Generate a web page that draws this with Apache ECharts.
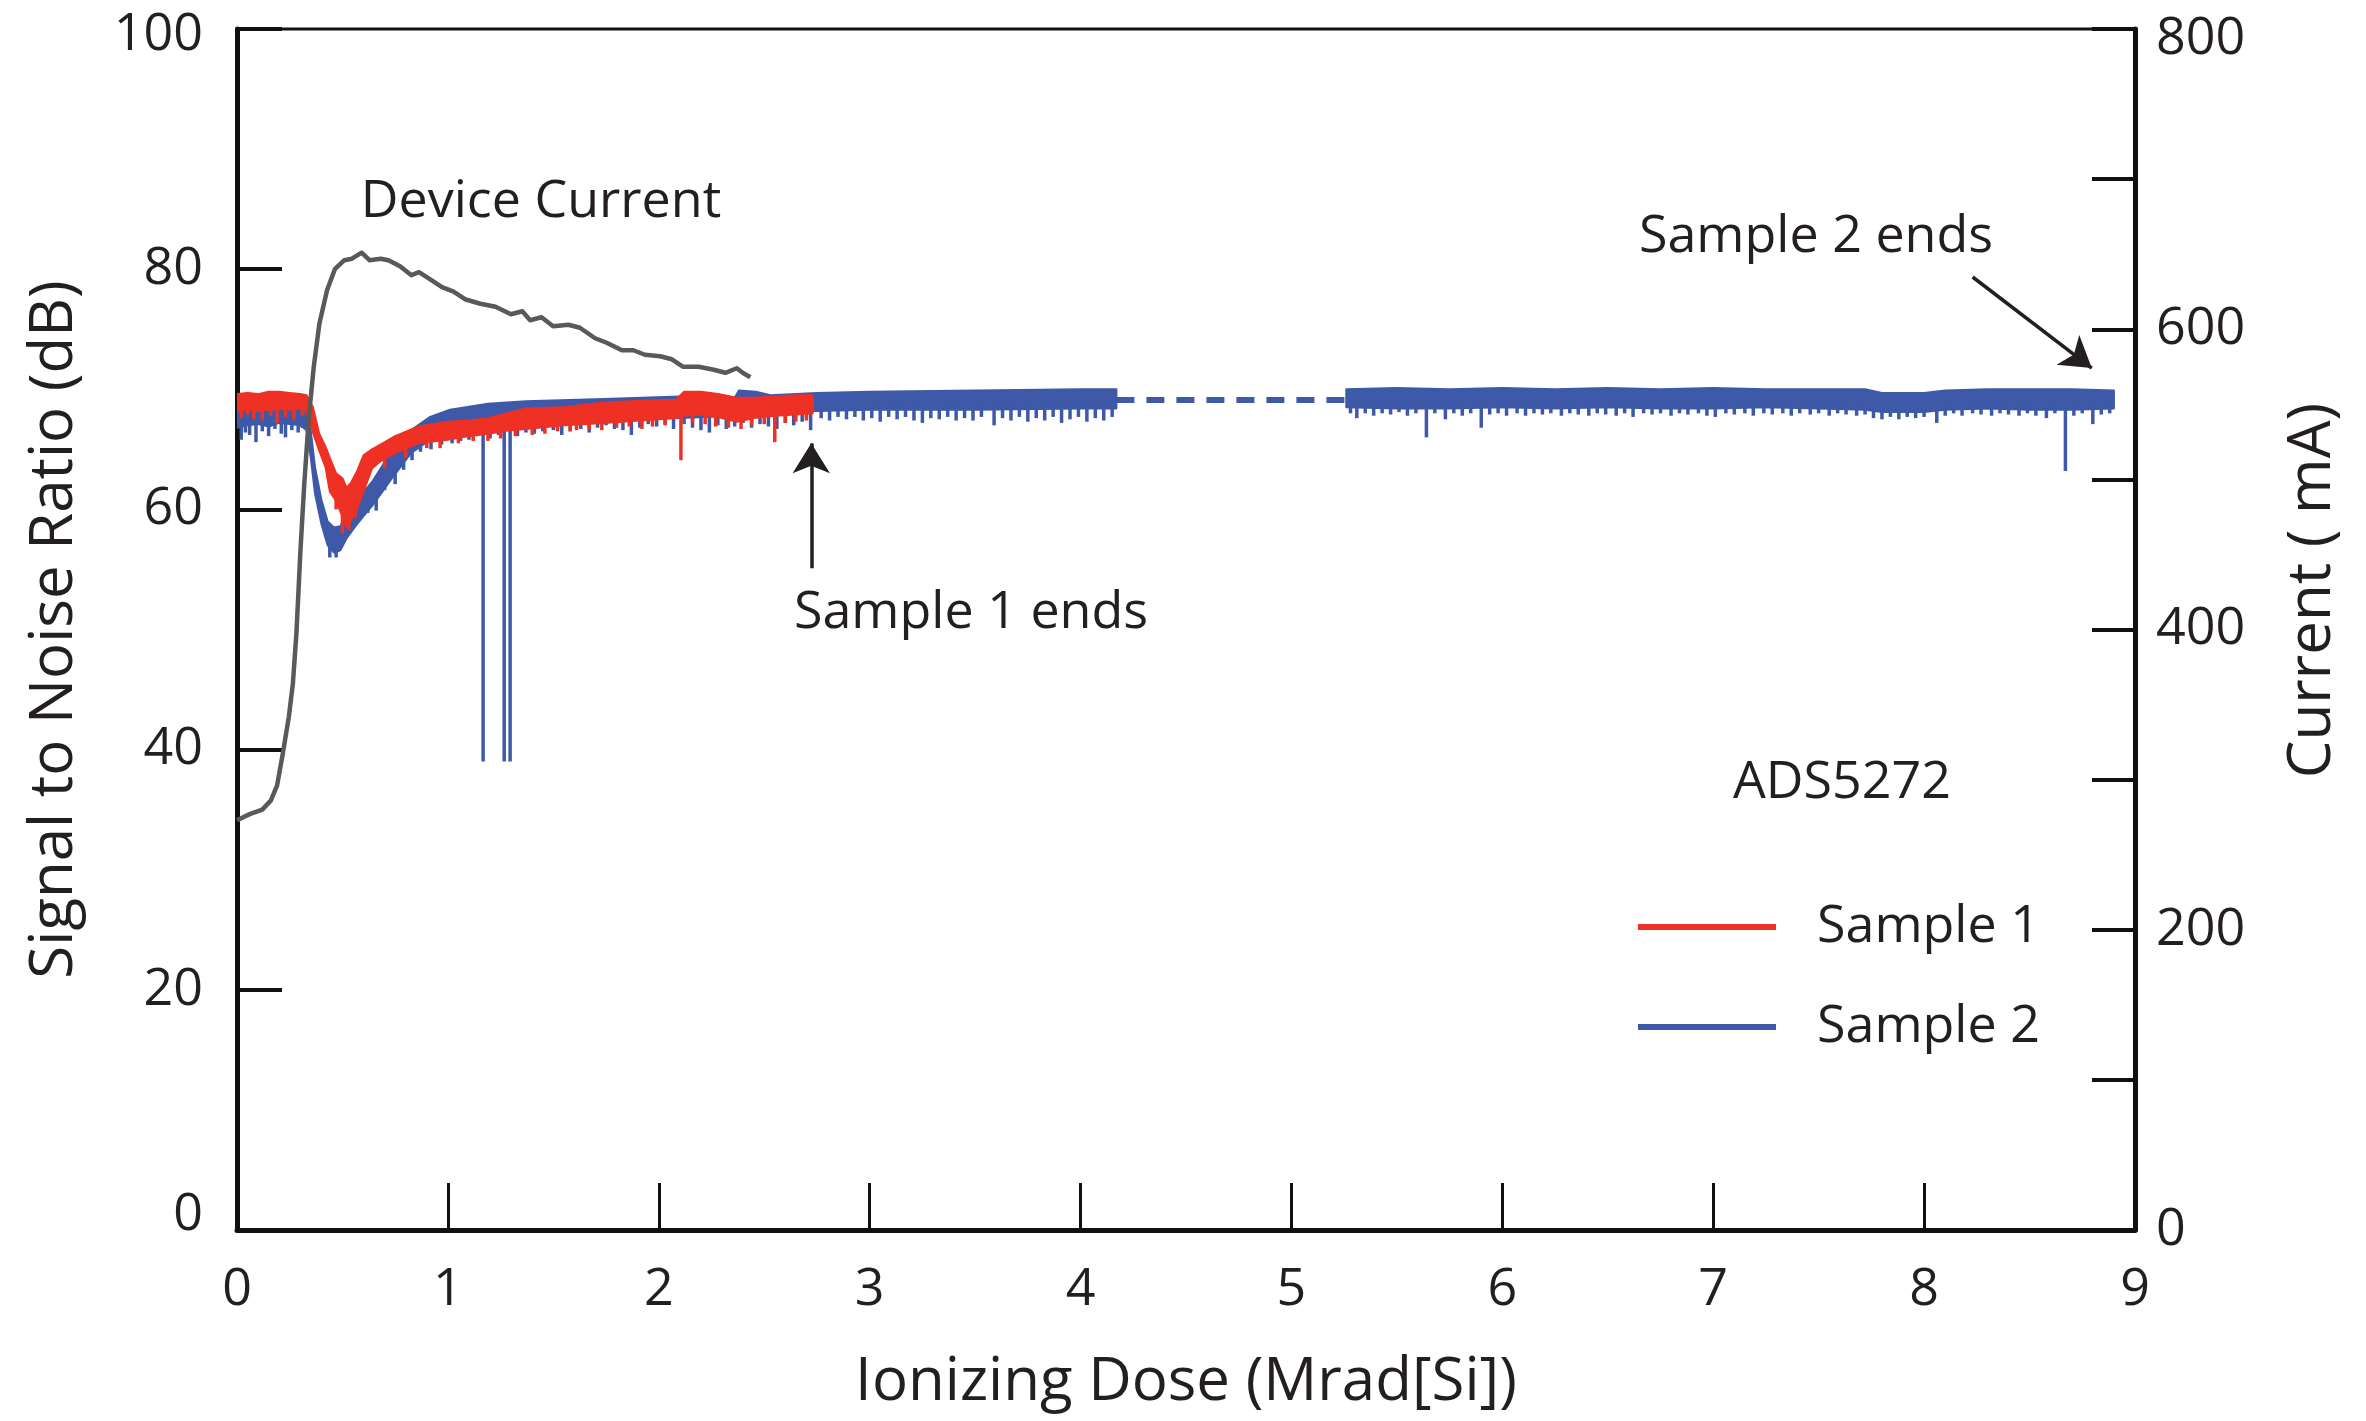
<!DOCTYPE html>
<html>
<head>
<meta charset="utf-8">
<title>ADS5272 SNR and device current vs ionizing dose</title>
<script src="https://cdn.jsdelivr.net/npm/echarts@6/dist/echarts.min.js"></script>
<style>
  html, body { margin: 0; padding: 0; background: #ffffff; }
  #chart { width: 2366px; height: 1421px; }
</style>
</head>
<body>
<div id="chart"></div>
<script>
// ---- Axis ranges and tick labels ----
const doseRange = [0, 9];
const snrRange = [0, 100];
const currentRange = [0, 800];
const currentTickLabels = [0, 200, 400, 600, 800];

// ---- Device current (mA, right axis) vs dose (Mrad[Si]) ----
const currentDose = [0, 0.06, 0.12, 0.16, 0.19, 0.218, 0.246, 0.265, 0.282, 0.301, 0.319, 0.341, 0.364, 0.391, 0.427, 0.464,
  0.509, 0.545, 0.591, 0.628, 0.682, 0.718, 0.773, 0.827, 0.863, 0.918, 0.972, 1.027, 1.081, 1.154, 1.226, 1.299,
  1.353, 1.39, 1.444, 1.499, 1.572, 1.626, 1.698, 1.753, 1.825, 1.88, 1.934, 2.007, 2.062, 2.116, 2.189, 2.261,
  2.316, 2.37, 2.398, 2.434];
const currentMA = [273, 277, 280, 286, 296, 318, 342, 364, 398, 453, 497, 542, 575, 604, 626, 640,
  646, 647, 651, 646, 647, 646, 642, 636, 638, 633, 628, 625, 620, 617, 615, 610,
  612, 606, 608, 602, 603, 601, 594, 591, 586, 586, 583, 582, 580, 575, 575, 573,
  571, 574, 571, 568];

// ---- Sample 1 SNR (dB): core band of the noisy trace ----
const s1Dose = [0, 0.05, 0.10, 0.15, 0.20, 0.25, 0.30, 0.33, 0.36, 0.39, 0.42, 0.44, 0.47, 0.50, 0.52, 0.54, 0.57, 0.60,
  0.64, 0.68, 0.75, 0.86, 1.00, 1.10, 1.19, 1.30, 1.37, 1.55, 1.74, 2.00, 2.08, 2.12, 2.20, 2.28, 2.37, 2.45, 2.55, 2.65, 2.73];
const s1Upper = [69.6, 69.7, 69.6, 69.8, 69.8, 69.7, 69.6, 69.5, 68.5, 66.3, 65.2, 64.3, 63.0, 62.6, 61.8, 62.2, 63.2, 64.5,
  65.0, 65.4, 66.1, 66.9, 67.3, 67.4, 67.6, 68.1, 68.4, 68.5, 68.9, 69.1, 69.1, 69.8, 69.8, 69.6, 69.3, 69.3, 69.4, 69.5, 69.5];
const s1Lower = [68.2, 68.3, 68.2, 68.3, 68.4, 68.3, 68.4, 68.1, 66.4, 64.9, 63.5, 61.5, 60.7, 59.4, 58.5, 59.1, 60.1, 61.5,
  63.4, 64.0, 64.7, 65.5, 65.8, 66.1, 66.3, 66.6, 66.7, 67.0, 67.2, 67.5, 67.6, 67.8, 67.9, 67.7, 67.3, 67.6, 67.8, 67.9, 68.0];
// Sample 1 downward noise spikes: [dose, lowest SNR]
const s1Spikes = [[0.02, 67.6], [0.05, 67.9], [0.08, 67.5], [0.12, 67.4], [0.16, 67.8], [0.19, 67.2], [0.23, 67.7], [0.27, 67.5],
  [0.31, 67.8], [0.47, 60.0], [0.50, 58.0], [0.53, 58.3], [0.56, 59.3], [0.70, 63.4], [0.80, 64.3], [0.90, 65.1], [0.963, 65.1],
  [1.05, 65.5], [1.12, 65.7], [1.19, 65.7], [1.25, 65.9], [1.32, 66.1], [1.40, 66.2], [1.46, 66.3], [1.52, 66.5], [1.58, 66.5],
  [1.61, 66.6], [1.67, 66.7], [1.73, 66.6], [1.80, 66.8], [1.86, 66.9], [1.92, 66.7], [1.97, 66.9], [2.03, 67.0], [2.105, 64.1],
  [2.16, 67.2], [2.22, 67.1], [2.27, 66.9], [2.33, 66.8], [2.39, 66.7], [2.44, 67.0], [2.50, 67.1], [2.55, 65.6], [2.60, 67.2],
  [2.65, 67.3], [2.70, 67.4]];

// ---- Sample 2 SNR (dB), first run: 0 - 4.17 Mrad ----
const s2aDose = [0, 0.05, 0.10, 0.15, 0.20, 0.25, 0.30, 0.33, 0.35, 0.37, 0.40, 0.43, 0.46, 0.49, 0.52, 0.57,
  0.645, 0.735, 0.826, 0.916, 1.01, 1.19, 1.37, 1.74, 2.10, 2.36, 2.38, 2.46, 2.53, 2.75, 3.0, 3.5, 4.0, 4.17];
const s2aUpper = [68.7, 68.8, 68.9, 68.8, 68.9, 68.8, 68.7, 68.4, 66.5, 63.5, 60.8, 59.0, 58.5, 58.6, 59.6, 60.8,
  62.4, 64.9, 66.6, 67.7, 68.3, 68.8, 69.0, 69.2, 69.4, 69.3, 69.9, 69.8, 69.5, 69.7, 69.8, 69.9, 70.0, 70.0];
const s2aLower = [66.8, 67.0, 67.1, 66.9, 67.2, 67.1, 67.0, 66.6, 64.3, 61.3, 58.8, 57.0, 56.4, 56.6, 57.6, 58.8,
  60.4, 62.6, 64.7, 65.8, 66.4, 66.8, 67.1, 67.5, 67.6, 67.8, 68.3, 68.3, 68.1, 68.2, 68.3, 68.3, 68.4, 68.4];
const s2aSpikes = [[0.02, 65.8], [0.04, 66.4], [0.06, 66.2], [0.09, 65.6], [0.12, 66.5], [0.15, 66.1], [0.18, 66.7], [0.21, 66.3],
  [0.23, 66.0], [0.26, 66.6], [0.29, 66.4], [0.31, 66.8], [0.44, 56.0], [0.47, 56.0], [0.62, 59.7], [0.66, 59.9], [0.70, 61.6],
  [0.75, 62.1], [0.79, 63.3], [0.83, 64.1], [0.87, 64.8], [0.92, 65.0], [0.97, 65.4], [1.02, 65.5], [1.06, 65.7], [1.10, 65.8],
  [1.14, 66.1], [1.167, 39.0], [1.267, 39.0], [1.295, 39.0], [1.20, 65.9], [1.24, 66.2], [1.33, 66.1], [1.37, 66.4], [1.41, 66.3],
  [1.45, 66.5], [1.50, 66.6], [1.54, 66.2], [1.58, 66.5], [1.63, 66.7], [1.67, 66.4], [1.71, 66.8], [1.75, 67.0], [1.79, 66.7],
  [1.83, 66.6], [1.87, 66.2], [1.91, 66.8], [1.95, 67.1], [1.99, 66.9], [2.03, 67.1], [2.07, 66.7], [2.12, 67.1], [2.16, 66.8],
  [2.20, 66.6], [2.24, 66.4], [2.28, 67.0], [2.32, 66.7], [2.36, 66.9], [2.40, 67.2], [2.44, 66.8], [2.48, 67.1], [2.52, 66.9],
  [2.56, 66.7], [2.60, 67.2], [2.64, 67.0], [2.68, 67.3], [2.72, 66.6], [2.77, 67.6], [2.81, 67.4], [2.85, 67.7], [2.89, 67.5],
  [2.93, 67.7], [2.97, 67.4], [3.01, 67.6], [3.05, 67.3], [3.09, 67.7], [3.13, 67.5], [3.17, 67.7], [3.21, 67.4], [3.25, 67.2],
  [3.29, 67.6], [3.33, 67.5], [3.37, 67.7], [3.41, 67.4], [3.45, 67.6], [3.49, 67.4], [3.53, 67.7], [3.59, 67.0], [3.63, 67.6],
  [3.67, 67.4], [3.71, 67.7], [3.75, 67.3], [3.79, 67.6], [3.83, 67.4], [3.87, 67.7], [3.91, 67.2], [3.95, 67.5], [3.99, 67.7],
  [4.03, 67.3], [4.07, 67.6], [4.11, 67.4], [4.15, 67.7]];

// ---- Sample 2: unrecorded stretch shown dashed ----
const s2GapDose = [4.17, 5.26];
const s2GapSnr = [69.1, 69.1];

// ---- Sample 2 SNR (dB), second run: 5.26 - 8.9 Mrad ----
const s2bDose = [5.26, 5.5, 5.75, 6.0, 6.25, 6.5, 6.75, 7.0, 7.25, 7.5, 7.72, 7.8, 8.0, 8.1, 8.3, 8.5, 8.7, 8.9];
const s2bUpper = [70.0, 70.1, 70.0, 70.1, 70.0, 70.1, 70.0, 70.1, 70.0, 70.0, 70.0, 69.7, 69.7, 69.9, 70.0, 70.0, 70.0, 69.9];
const s2bLower = [68.5, 68.4, 68.4, 68.5, 68.4, 68.5, 68.4, 68.4, 68.5, 68.4, 68.3, 68.1, 68.1, 68.3, 68.4, 68.3, 68.3, 68.4];
const s2bSpikes = [[5.28, 68.0], [5.31, 67.6], [5.35, 68.0], [5.39, 67.8], [5.43, 68.0], [5.47, 67.9], [5.51, 68.1], [5.55, 67.8],
  [5.59, 68.0], [5.64, 66.0], [5.68, 68.0], [5.73, 67.5], [5.77, 68.0], [5.81, 67.8], [5.85, 68.0], [5.90, 66.8], [5.94, 67.9],
  [5.98, 68.0], [6.02, 67.8], [6.07, 68.0], [6.11, 67.8], [6.15, 68.0], [6.19, 67.9], [6.23, 68.0], [6.28, 67.8], [6.32, 68.0],
  [6.36, 67.9], [6.41, 67.8], [6.45, 68.0], [6.49, 67.9], [6.54, 67.8], [6.58, 68.0], [6.62, 67.7], [6.67, 68.0], [6.71, 67.9],
  [6.75, 68.0], [6.80, 67.8], [6.84, 68.0], [6.88, 67.9], [6.93, 68.0], [6.97, 67.8], [7.01, 67.7], [7.06, 68.0], [7.10, 67.9],
  [7.15, 68.0], [7.19, 67.8], [7.24, 68.0], [7.28, 67.9], [7.33, 68.0], [7.37, 67.8], [7.41, 68.0], [7.46, 67.9], [7.50, 68.0],
  [7.55, 67.8], [7.59, 68.0], [7.63, 67.9], [7.68, 67.8], [7.72, 67.9], [7.76, 67.6], [7.80, 67.5], [7.84, 67.7], [7.88, 67.5],
  [7.92, 67.7], [7.96, 67.6], [8.00, 67.7], [8.06, 67.2], [8.10, 67.8], [8.14, 68.0], [8.18, 67.8], [8.23, 68.0], [8.27, 67.9],
  [8.32, 67.8], [8.36, 68.0], [8.40, 67.9], [8.45, 67.8], [8.49, 68.0], [8.53, 67.8], [8.58, 67.6], [8.62, 68.0], [8.67, 63.2],
  [8.71, 67.8], [8.75, 68.0], [8.80, 67.1], [8.84, 67.9], [8.88, 68.0]];

// ---- Callout arrows: [dose, SNR] start and tip ----
const sample1EndArrow = [[2.723, 55.1], [2.723, 65.5]];
const sample2EndArrow = [[8.23, 79.35], [8.795, 71.77]];

// ---- Styling ----
const RED = '#ee3124';
const BLUE = '#3d59a8';
const GREY = '#58595b';
const INK = '#231f20';
const AXIS = '#111111';
const FONT = '"Open Sans", "Noto Sans", sans-serif';

// linear lookup of a band edge at a given dose
function edgeAt(dose, edge, x) {
  if (x <= dose[0]) return edge[0];
  for (let i = 1; i < dose.length; i++) {
    if (x <= dose[i]) {
      const t = (x - dose[i - 1]) / (dose[i] - dose[i - 1]);
      return edge[i - 1] + t * (edge[i] - edge[i - 1]);
    }
  }
  return edge[edge.length - 1];
}

// filled band between lower and upper SNR edges
function bandSeries(name, color, dose, lower, upper) {
  const rows = dose.map((d, i) => [d, lower[i], upper[i]]);
  return {
    type: 'custom', name, coordinateSystem: 'cartesian2d', xAxisIndex: 0, yAxisIndex: 0,
    silent: true, clip: true, itemStyle: { color },
    encode: { x: 0, y: [1, 2] },
    data: rows,
    renderItem(params, api) {
      if (params.dataIndex !== 0) return null;
      const top = rows.map(r => api.coord([r[0], r[2]]));
      const bottom = rows.map(r => api.coord([r[0], r[1]])).reverse();
      return {
        type: 'polygon',
        shape: { points: top.concat(bottom) },
        style: { fill: color, stroke: color, lineWidth: 2, lineJoin: 'round' }
      };
    }
  };
}

// vertical noise spikes hanging from the band's lower edge
function spikeSeries(name, color, spikes, dose, lower) {
  return {
    type: 'custom', name, coordinateSystem: 'cartesian2d', xAxisIndex: 0, yAxisIndex: 0,
    silent: true, clip: true, itemStyle: { color },
    encode: { x: 0, y: 1 },
    data: spikes,
    renderItem(params, api) {
      const x = api.value(0);
      const low = api.value(1);
      const top = edgeAt(dose, lower, x) + 0.5;
      const p0 = api.coord([x, top]);
      const p1 = api.coord([x, low]);
      return {
        type: 'line',
        shape: { x1: p0[0], y1: p0[1], x2: p1[0], y2: p1[1] },
        style: { stroke: color, lineWidth: 3.5 }
      };
    }
  };
}

const chart = echarts.init(document.getElementById('chart'), null, { renderer: 'canvas' });

const labelStyle = { color: INK, fontFamily: FONT, fontSize: 52 };
const nameStyle = { color: INK, fontFamily: FONT, fontSize: 60 };
const annotation = (text, x, y) => ({
  type: 'text', x, y, silent: true,
  style: { text, fill: INK, font: '52px ' + FONT, textAlign: 'center', textVerticalAlign: 'middle' }
});

chart.setOption({
  animation: false,
  backgroundColor: '#ffffff',
  grid: {
    left: 237, right: 231, top: 29, bottom: 191,
    show: true, borderColor: AXIS, borderWidth: 3, backgroundColor: 'transparent',
    containLabel: false, outerBoundsMode: 'none'
  },
  legend: {
    left: 1638, top: 897, orient: 'vertical', padding: 0, itemGap: 40,
    itemWidth: 138, itemHeight: 6, selectedMode: false,
    textStyle: { color: INK, fontFamily: FONT, fontSize: 52, lineHeight: 60, padding: [0, 0, 0, 36] },
    data: [{ name: 'Sample 1', icon: 'rect' }, { name: 'Sample 2', icon: 'rect' }]
  },
  xAxis: {
    type: 'value', min: doseRange[0], max: doseRange[1], interval: 1,
    name: 'Ionizing Dose (Mrad[Si])', nameLocation: 'middle', nameGap: 123, nameTextStyle: nameStyle,
    axisLine: { show: true, onZero: false, lineStyle: { color: AXIS, width: 5 } },
    axisTick: { show: true, inside: true, length: 47, lineStyle: { color: AXIS, width: 3 } },
    axisLabel: Object.assign({ margin: 34 }, labelStyle),
    splitLine: { show: false }
  },
  yAxis: [
    {
      type: 'value', min: snrRange[0], max: snrRange[1], interval: 20, position: 'left',
      name: 'Signal to Noise Ratio (dB)', nameLocation: 'middle', nameGap: 152, nameRotate: 90, nameTextStyle: nameStyle,
      axisLine: { show: true, onZero: false, lineStyle: { color: AXIS, width: 5 } },
      axisTick: { show: true, inside: true, length: 45, lineStyle: { color: AXIS, width: 4 } },
      axisLabel: Object.assign({
        margin: 34,
        formatter: v => (v === 0 ? '{lo|0}' : v === 100 ? '{hi|100}' : String(v)),
        rich: {
          lo: { color: INK, fontFamily: FONT, fontSize: 52, padding: [0, 0, 30, 0] },
          hi: { color: INK, fontFamily: FONT, fontSize: 52, padding: [12, 0, 0, 0] }
        }
      }, labelStyle),
      splitLine: { show: false }
    },
    {
      type: 'value', min: currentRange[0], max: currentRange[1], interval: 100, position: 'right',
      name: 'Current ( mA)', nameLocation: 'middle', nameGap: 148, nameRotate: 90,
      nameTextStyle: Object.assign({ padding: [0, 0, 0, 78] }, nameStyle),
      axisLine: { show: true, onZero: false, lineStyle: { color: AXIS, width: 5 } },
      axisTick: { show: true, inside: true, length: 43, lineStyle: { color: AXIS, width: 4 } },
      axisLabel: Object.assign({
        margin: 21,
        formatter: v => (v === 800 ? '{hi|800}' : currentTickLabels.includes(v) ? String(v) : ''),
        rich: { hi: { color: INK, fontFamily: FONT, fontSize: 52, padding: [20, 0, 0, 0] } }
      }, labelStyle),
      splitLine: { show: false }
    }
  ],
  series: [
    bandSeries('Sample 2', BLUE, s2aDose, s2aLower, s2aUpper),
    spikeSeries('Sample 2', BLUE, s2aSpikes, s2aDose, s2aLower),
    bandSeries('Sample 2', BLUE, s2bDose, s2bLower, s2bUpper),
    spikeSeries('Sample 2', BLUE, s2bSpikes, s2bDose, s2bLower),
    {
      type: 'line', name: 'Sample 2', xAxisIndex: 0, yAxisIndex: 0, silent: true,
      data: s2GapDose.map((d, i) => [d, s2GapSnr[i]]),
      showSymbol: false, symbol: 'none',
      lineStyle: { color: BLUE, width: 6, type: [18, 12] },
      itemStyle: { color: BLUE },
      markLine: {
        silent: true, symbol: ['none', 'arrow'], symbolSize: [28, 30], precision: 4,
        label: { show: false },
        lineStyle: { color: INK, width: 3.5, type: 'solid' },
        data: [
          [{ coord: sample1EndArrow[0] }, { coord: sample1EndArrow[1] }],
          [{ coord: sample2EndArrow[0] }, { coord: sample2EndArrow[1] }]
        ]
      }
    },
    bandSeries('Sample 1', RED, s1Dose, s1Lower, s1Upper),
    spikeSeries('Sample 1', RED, s1Spikes, s1Dose, s1Lower),
    {
      type: 'line', name: 'Device Current', xAxisIndex: 0, yAxisIndex: 1, silent: true,
      data: currentDose.map((d, i) => [d, currentMA[i]]),
      showSymbol: false, symbol: 'none',
      lineStyle: { color: GREY, width: 4.5, join: 'round' },
      itemStyle: { color: GREY }
    }
  ],
  graphic: [
    annotation('Device Current', 541, 202),
    annotation('Sample 2 ends', 1816, 237),
    annotation('Sample 1 ends', 971, 613),
    annotation('ADS5272', 1842, 783)
  ]
});
</script>
</body>
</html>
